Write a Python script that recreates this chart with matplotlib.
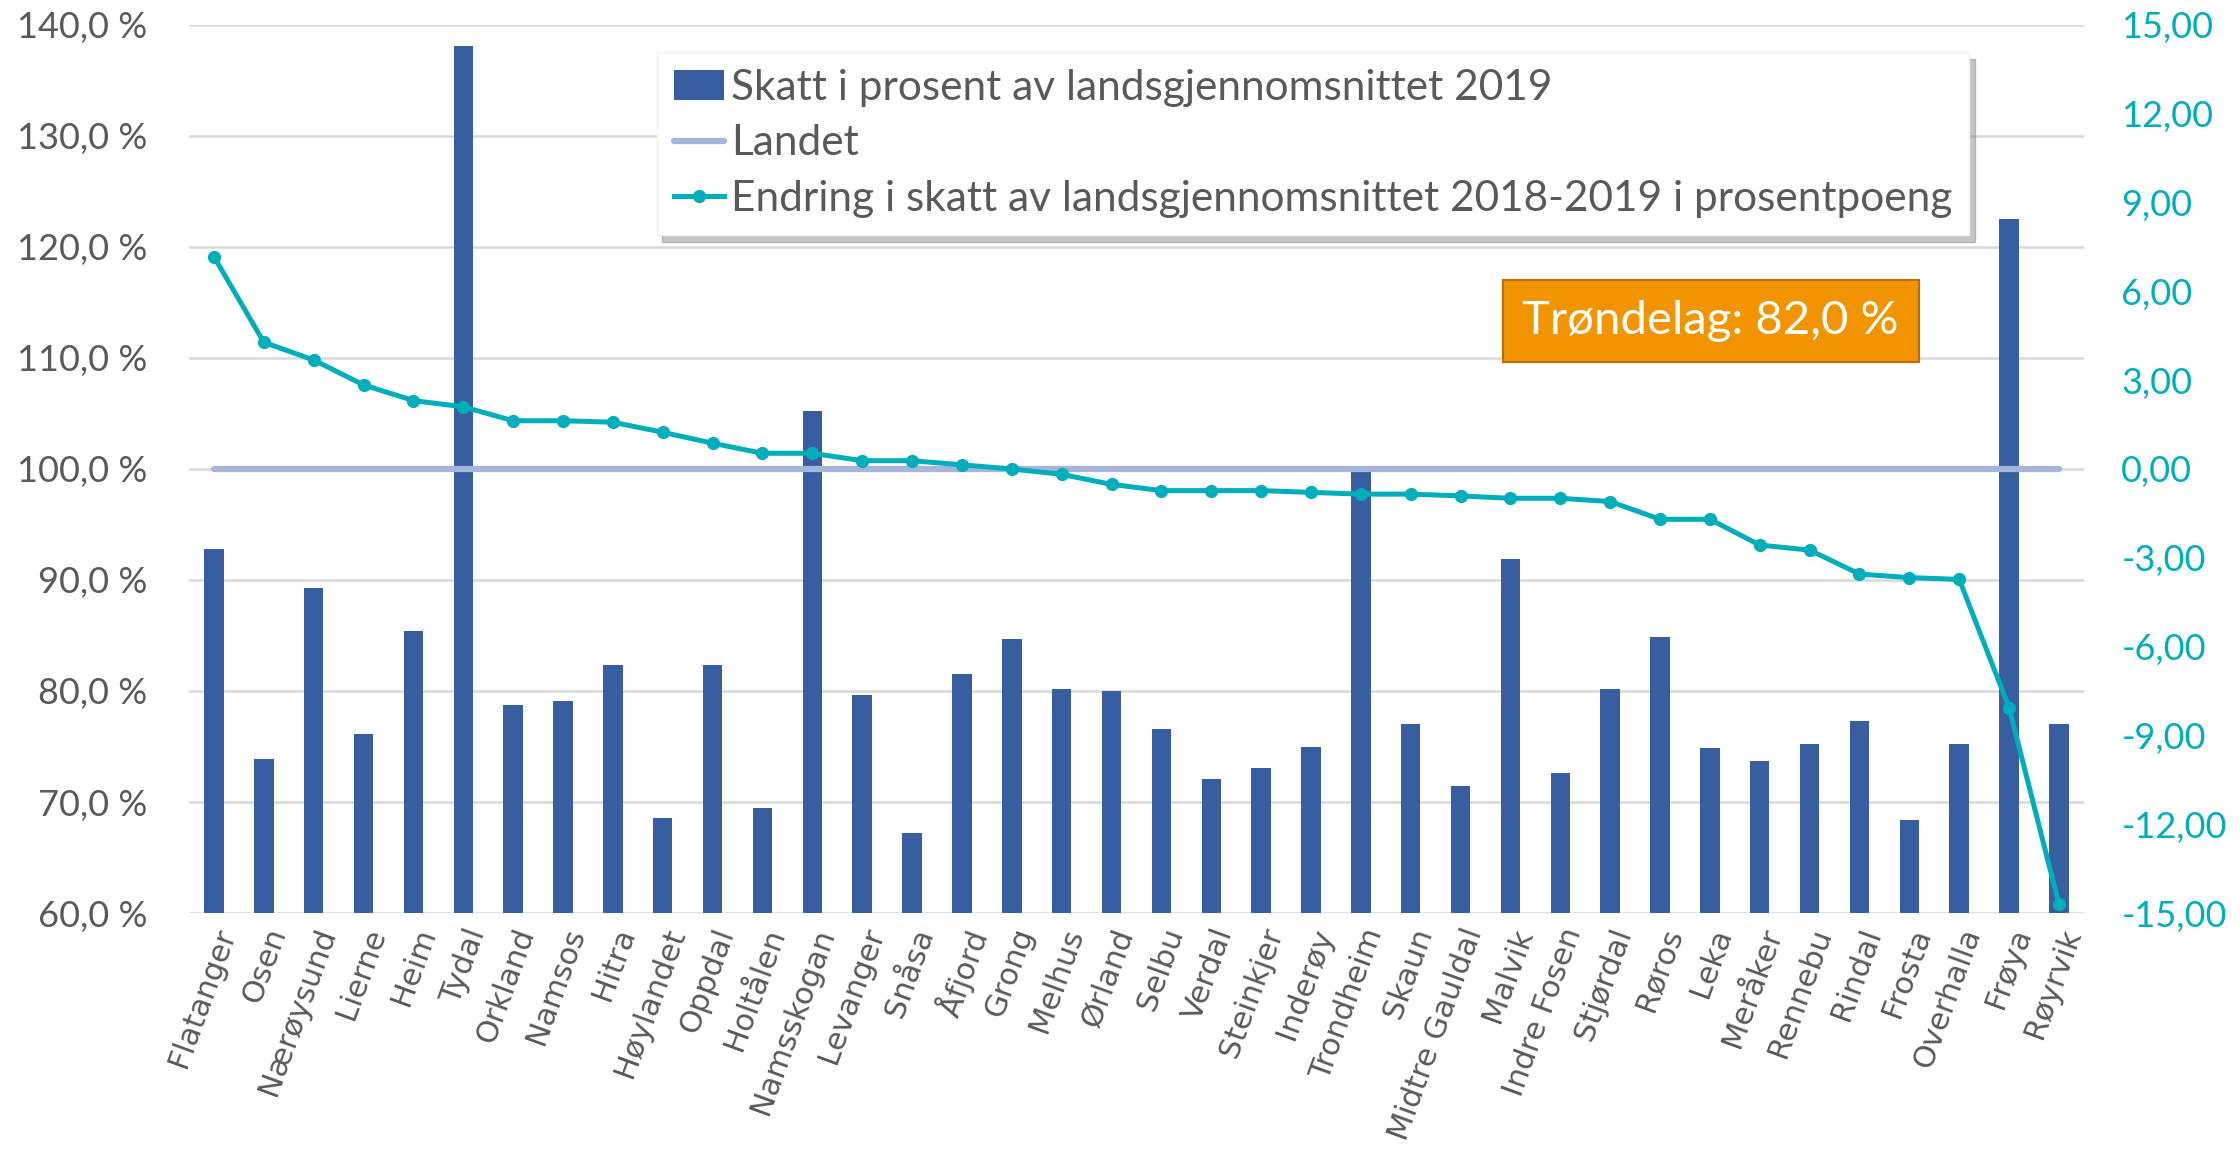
import matplotlib
matplotlib.use("Agg")
import matplotlib.pyplot as plt
from matplotlib.ticker import FuncFormatter, FixedLocator

# Data
kommuner = ["Flatanger", "Osen", "Nærøysund", "Lierne", "Heim", "Tydal", "Orkland",
            "Namsos", "Hitra", "Høylandet", "Oppdal", "Holtålen", "Namsskogan",
            "Levanger", "Snåsa", "Åfjord", "Grong", "Melhus", "Ørland", "Selbu",
            "Verdal", "Steinkjer", "Inderøy", "Trondheim", "Skaun", "Midtre Gauldal",
            "Malvik", "Indre Fosen", "Stjørdal", "Røros", "Leka", "Meråker",
            "Rennebu", "Rindal", "Frosta", "Overhalla", "Frøya", "Røyrvik"]

skatt_2019 = [92.8, 73.9, 89.3, 76.1, 85.4, 138.1, 78.7, 79.1, 82.3, 68.6, 82.3, 69.5,
              105.2, 79.6, 67.2, 81.5, 84.7, 80.2, 80.0, 76.6, 72.1, 73.1, 75.0, 99.7,
              77.0, 71.4, 91.9, 72.6, 80.2, 84.9, 74.9, 73.7, 75.2, 77.3, 68.4, 75.2,
              122.5, 77.0]

endring = [7.17, 4.28, 3.68, 2.84, 2.31, 2.10, 1.63, 1.63, 1.58, 1.24, 0.87, 0.53,
           0.53, 0.28, 0.28, 0.14, 0.00, -0.18, -0.52, -0.73, -0.73, -0.73, -0.79,
           -0.85, -0.85, -0.91, -0.99, -0.99, -1.10, -1.70, -1.70, -2.57, -2.74,
           -3.55, -3.67, -3.73, -8.06, -14.70]

landet = [100.0] * len(kommuner)
trondelag_tekst = "Trøndelag: 82,0 %"

bar_color = "#365EA0"
line_color = "#00AEBB"
landet_color = "#A8B5DB"
grey_text = "#595959"

plt.rcParams['font.family'] = ['Lato', 'DejaVu Sans']

fig = plt.figure(figsize=(22.4, 11.61), dpi=100)
ax = fig.add_axes([0.0844, 0.2136, 0.8459, 0.7649])
ax2 = ax.twinx()

x = list(range(len(kommuner)))

bars = ax.bar(x, [v - 60 for v in skatt_2019], bottom=60, width=0.39, color=bar_color,
              zorder=2, label="Skatt i prosent av landsgjennomsnittet 2019")
landet_line, = ax.plot(x, landet, color=landet_color, lw=4.5, solid_capstyle='round',
                       zorder=3, label="Landet")
endr_line, = ax2.plot(x, endring, color=line_color, lw=3.6, marker='o', markersize=8.5,
                      zorder=4, label="Endring i skatt av landsgjennomsnittet 2018-2019 i prosentpoeng")

ax.set_xlim(-0.5, len(kommuner) - 0.5)
ax.set_ylim(60, 140)
ax2.set_ylim(-15, 15)

ax.yaxis.set_major_locator(FixedLocator(range(60, 141, 10)))
ax2.yaxis.set_major_locator(FixedLocator(range(-15, 16, 3)))
ax.yaxis.set_major_formatter(FuncFormatter(lambda v, p: f"{v:.1f}".replace(".", ",") + " %"))
ax2.yaxis.set_major_formatter(FuncFormatter(lambda v, p: f"{v:.2f}".replace(".", ",")))

ax.grid(axis='y', color="#D9D9D9", lw=1.8, zorder=0)
ax.set_axisbelow(True)
for a in (ax, ax2):
    for s in a.spines.values():
        s.set_visible(False)
ax.tick_params(axis='y', length=0, pad=30, labelsize=26, labelcolor=grey_text)
ax2.tick_params(axis='y', length=0, pad=27, labelsize=26, labelcolor=line_color)
ax.tick_params(axis='x', length=0, pad=8)

ax.set_xticks(x)
ax.set_xticklabels(kommuner, rotation=70, ha='right', rotation_mode='anchor',
                   fontsize=22, color=grey_text, family='DejaVu Sans')

# Orange annotation box
ax2.text(0.803, 0.667, trondelag_tekst, transform=ax.transAxes, ha='center', va='center',
         fontsize=34, color='white', zorder=6,
         bbox=dict(boxstyle='square,pad=0.42', facecolor='#F29400', edgecolor='#C46A00', lw=1.5))

leg = ax2.legend(handles=[bars, landet_line, endr_line], loc='upper left',
                 bbox_to_anchor=(0.2468, 0.970), fontsize=30.5, frameon=True,
                 fancybox=False, framealpha=1, edgecolor='#F2F2F2',
                 handlelength=1.2, handletextpad=0.15, labelspacing=0.42,
                 borderpad=0.4, borderaxespad=0,
                 shadow={'color': '#7F7F7F', 'alpha': 0.45, 'ox': 4, 'oy': -5})
for t in leg.get_texts():
    t.set_color(grey_text)
leg.set_zorder(10)

fig.savefig("out.png", dpi=100)
